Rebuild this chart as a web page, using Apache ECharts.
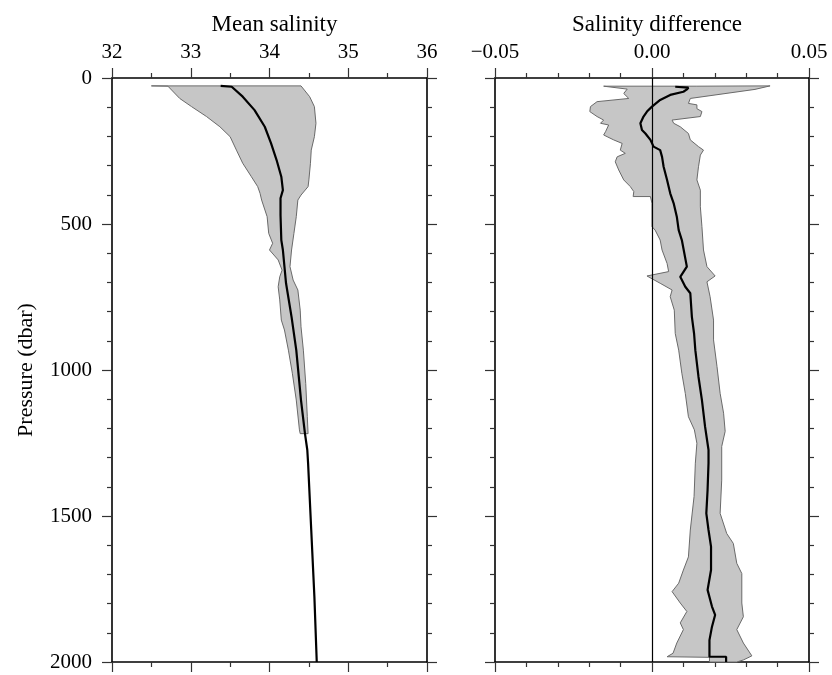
<!DOCTYPE html>
<html><head><meta charset="utf-8">
<script src="https://cdn.jsdelivr.net/npm/echarts@6/dist/echarts.min.js"></script>
<style>html,body{margin:0;padding:0;background:#fff}#c{width:832px;height:675px}</style>
</head><body><div id="c"></div>
<script>
// ---------- data: [value, pressure(dbar)] ----------
const meanSalinity = [[33.38,27],[33.52,30],[33.66,64],[33.81,110],[33.94,167],[34.02,224],[34.09,281],[34.15,338],[34.17,384],[34.14,412],[34.14,470],[34.15,555],[34.17,589],[34.21,703],[34.28,818],[34.34,932],[34.40,1103],[34.45,1217],[34.48,1274],[34.49,1319],[34.53,1548],[34.57,1776],[34.60,2000]];
const salinityLower = [[32.50,27],[32.71,28],[32.86,70],[33.01,98],[33.20,132],[33.37,167],[33.50,201],[33.58,247],[33.66,292],[33.77,338],[33.85,372],[33.88,395],[33.90,418],[33.97,475],[33.99,532],[34.04,566],[34.00,589],[34.11,623],[34.16,658],[34.13,681],[34.11,715],[34.13,760],[34.15,829],[34.19,863],[34.24,932],[34.29,1011],[34.34,1103],[34.38,1205],[34.39,1218]];
const salinityUpper = [[34.40,27],[34.51,64],[34.57,98],[34.59,155],[34.57,201],[34.53,247],[34.52,292],[34.50,349],[34.49,372],[34.40,401],[34.36,418],[34.34,475],[34.31,532],[34.28,589],[34.26,646],[34.30,692],[34.36,726],[34.39,795],[34.40,852],[34.43,932],[34.46,1046],[34.48,1160],[34.49,1218]];

const meanDifference = [[0.0074,30],[0.0116,33],[0.0110,40],[0.0100,47],[0.0058,58],[0.0026,75],[0.0000,98],[-0.0016,115],[-0.0027,132],[-0.0037,155],[-0.0032,178],[-0.0021,190],[-0.0005,212],[0.0005,235],[0.0026,247],[0.0032,270],[0.0037,304],[0.0048,349],[0.0058,395],[0.0069,429],[0.0079,475],[0.0085,521],[0.0095,555],[0.0111,646],[0.0090,681],[0.0106,715],[0.0122,737],[0.0127,818],[0.0134,875],[0.0138,932],[0.0148,1023],[0.0159,1103],[0.0169,1194],[0.0180,1274],[0.0180,1319],[0.0177,1411],[0.0173,1491],[0.0180,1548],[0.0188,1605],[0.0188,1685],[0.0177,1753],[0.0191,1810],[0.0201,1839],[0.0191,1879],[0.0183,1925],[0.0183,1982],[0.0236,1982],[0.0236,2000]];
const differenceLower = [[-0.0154,28],[-0.0079,38],[-0.0090,53],[-0.0074,70],[-0.0175,81],[-0.0196,98],[-0.0198,115],[-0.0175,132],[-0.0154,144],[-0.0164,155],[-0.0138,161],[-0.0148,184],[-0.0154,195],[-0.0143,201],[-0.0122,212],[-0.0095,224],[-0.0101,247],[-0.0085,258],[-0.0111,270],[-0.0117,287],[-0.0106,315],[-0.0090,349],[-0.0069,372],[-0.0058,389],[-0.0060,406],[-0.0005,406],[0.0000,429],[0.0000,509],[0.0010,521],[0.0026,555],[0.0032,589],[0.0048,635],[0.0053,663],[-0.0016,678],[0.0026,703],[0.0064,726],[0.0058,749],[0.0071,795],[0.0074,875],[0.0085,932],[0.0095,1011],[0.0106,1080],[0.0116,1160],[0.0135,1205],[0.0143,1251],[0.0138,1319],[0.0134,1433],[0.0122,1548],[0.0116,1640],[0.0100,1685],[0.0085,1730],[0.0064,1759],[0.0090,1798],[0.0111,1827],[0.0090,1866],[0.0100,1889],[0.0079,1935],[0.0067,1970],[0.0048,1982],[0.0183,1984],[0.0183,2000]];
const differenceUpper = [[0.0143,28],[0.0376,27],[0.0328,39],[0.0122,70],[0.0116,87],[0.0143,92],[0.0143,105],[0.0159,115],[0.0154,132],[0.0064,144],[0.0069,155],[0.0090,167],[0.0116,190],[0.0122,212],[0.0148,235],[0.0164,247],[0.0154,264],[0.0148,304],[0.0143,349],[0.0154,384],[0.0154,441],[0.0159,509],[0.0164,589],[0.0175,646],[0.0201,678],[0.0175,698],[0.0185,749],[0.0196,829],[0.0196,897],[0.0207,988],[0.0217,1080],[0.0228,1148],[0.0233,1210],[0.0222,1262],[0.0222,1377],[0.0217,1491],[0.0238,1560],[0.0259,1594],[0.0270,1662],[0.0286,1697],[0.0286,1798],[0.0291,1845],[0.0270,1889],[0.0291,1935],[0.0318,1979],[0.0291,1993],[0.0270,2000]];

const salinityTicks = {min: 32, max: 36, interval: 1};
const differenceTicks = {min: -0.05, max: 0.05, interval: 0.05};
const pressureTicks = {min: 0, max: 2000, interval: 500};
const titles = ['Mean salinity', 'Salinity difference'];
const pressureName = 'Pressure (dbar)';

// ---------- chart ----------
const FONT = 'Liberation Serif';
const chart = echarts.init(document.getElementById('c'), null, {renderer: 'canvas'});

function xAx(grid, pos, t, split, showLabel, fmt) {
  return {
    type: 'value', gridIndex: grid, position: pos,
    min: t.min, max: t.max, interval: t.interval,
    axisLine: {show: true, onZero: false, lineStyle: {color: '#000', width: 1.6}},
    axisTick: {show: true, inside: false, length: 10, lineStyle: {color: '#333', width: 1.2}},
    minorTick: {show: true, splitNumber: split, length: 5, lineStyle: {color: '#333', width: 1.2}},
    splitLine: {show: false}, minorSplitLine: {show: false},
    axisLabel: {show: showLabel, fontFamily: FONT, fontSize: 21, color: '#000', margin: 15, formatter: fmt}
  };
}
function yAx(grid, pos, showLabel, name) {
  return {
    type: 'value', gridIndex: grid, position: pos, inverse: true,
    min: pressureTicks.min, max: pressureTicks.max, interval: pressureTicks.interval,
    axisLine: {show: true, onZero: false, lineStyle: {color: '#000', width: 1.6}},
    axisTick: {show: true, inside: false, length: 10, lineStyle: {color: '#333', width: 1.2}},
    minorTick: {show: true, splitNumber: 5, length: 5, lineStyle: {color: '#333', width: 1.2}},
    splitLine: {show: false}, minorSplitLine: {show: false},
    axisLabel: {show: showLabel, fontFamily: FONT, fontSize: 21, color: '#000', margin: 20,
      formatter: v => String(v)},
    name: name || '', nameLocation: 'middle', nameGap: 75,
    nameTextStyle: {fontFamily: FONT, fontSize: 22, color: '#000'}
  };
}
const diffFmt = v => Math.abs(v) < 1e-9 ? '0.00' : (v < 0 ? '\u2212' + (-v).toFixed(2) : v.toFixed(2));

function band(lower, upper) {
  return function (params, api) {
    const pts = lower.concat(upper.slice().reverse()).map(d => api.coord(d));
    return {type: 'polygon', shape: {points: pts},
      style: {fill: '#c6c6c6', stroke: '#6a6a6a', lineWidth: 1}};
  };
}

chart.setOption({
  animation: false,
  backgroundColor: '#fff',
  title: [
    {text: titles[0], left: 269.5, top: 8, textAlign: 'center',
     textStyle: {fontFamily: FONT, fontSize: 23, fontWeight: 'normal', color: '#000'}},
    {text: titles[1], left: 652, top: 8, textAlign: 'center',
     textStyle: {fontFamily: FONT, fontSize: 23, fontWeight: 'normal', color: '#000'}}
  ],
  grid: [
    {left: 112, top: 78, width: 315, height: 584, containLabel: false},
    {left: 495, top: 78, width: 314, height: 584, containLabel: false}
  ],
  xAxis: [
    xAx(0, 'top', salinityTicks, 2, true),
    xAx(0, 'bottom', salinityTicks, 2, false),
    xAx(1, 'top', differenceTicks, 5, true, diffFmt),
    xAx(1, 'bottom', differenceTicks, 5, false, diffFmt)
  ],
  yAxis: [
    yAx(0, 'left', true, pressureName),
    yAx(0, 'right', false),
    yAx(1, 'left', false),
    yAx(1, 'right', false)
  ],
  series: [
    {type: 'custom', xAxisIndex: 0, yAxisIndex: 0, data: [[salinityLower[0][0], salinityLower[0][1]]],
     renderItem: band(salinityLower, salinityUpper), z: 1, silent: true},
    {type: 'line', xAxisIndex: 0, yAxisIndex: 0, data: meanSalinity, showSymbol: false,
     lineStyle: {color: '#000', width: 2.2}, z: 3, silent: true},
    {type: 'custom', xAxisIndex: 2, yAxisIndex: 2, data: [[differenceLower[0][0], differenceLower[0][1]]],
     renderItem: band(differenceLower, differenceUpper), z: 1, silent: true},
    {type: 'line', xAxisIndex: 2, yAxisIndex: 2, data: meanDifference, showSymbol: false,
     lineStyle: {color: '#000', width: 2.2}, z: 3, silent: true,
     markLine: {silent: true, symbol: ['none', 'none'], label: {show: false},
       lineStyle: {color: '#000', width: 1.2, type: 'solid'}, data: [{xAxis: 0}], z: 2}}
  ]
});
</script></body></html>
